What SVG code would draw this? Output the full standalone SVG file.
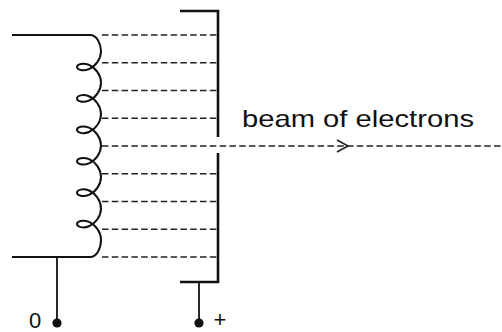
<svg xmlns="http://www.w3.org/2000/svg" width="502" height="332" viewBox="0 0 502 332">
<style>
.wire{fill:none;stroke:#111;stroke-width:1.8;stroke-linecap:butt}
.coil{fill:none;stroke:#111;stroke-width:2}
.plate{fill:none;stroke:#111;stroke-width:2.6}
.dash{fill:none;stroke:#222;stroke-width:1.6;stroke-dasharray:6.5 3.3}
.lbl{font-family:"Liberation Sans",Arial,sans-serif;fill:#111}
</style>
<rect width="502" height="332" fill="#fff"/>
<g id="cathode">
<path class="coil" d="M12,35 H90 C97,35 101,44 101,51.3
c 0,7.854 -5.72,15.236 -12,17.854 c -6.28,2.618 -12,0.472 -12,-2.146 c 0,-2.618 5.72,-4.764 12,-2.146 c 6.28,2.618 12,10 12,17.854
c 0,7.854 -5.72,15.236 -12,17.854 c -6.28,2.618 -12,0.472 -12,-2.146 c 0,-2.618 5.72,-4.764 12,-2.146 c 6.28,2.618 12,10 12,17.854
c 0,7.854 -5.72,15.236 -12,17.854 c -6.28,2.618 -12,0.472 -12,-2.146 c 0,-2.618 5.72,-4.764 12,-2.146 c 6.28,2.618 12,10 12,17.854
c 0,7.854 -5.72,15.236 -12,17.854 c -6.28,2.618 -12,0.472 -12,-2.146 c 0,-2.618 5.72,-4.764 12,-2.146 c 6.28,2.618 12,10 12,17.854
c 0,7.854 -5.72,15.236 -12,17.854 c -6.28,2.618 -12,0.472 -12,-2.146 c 0,-2.618 5.72,-4.764 12,-2.146 c 6.28,2.618 12,10 12,17.854
c 0,7.854 -5.72,15.236 -12,17.854 c -6.28,2.618 -12,0.472 -12,-2.146 c 0,-2.618 5.72,-4.764 12,-2.146 c 6.28,2.618 12,10 12,17.854
C101,248 97,257 90,257 H12"/>
</g>
<g id="anode">
<path class="plate" d="M180,11 H218 V137 M218,153 V282 H180"/>
</g>
<g id="connectors">
<path class="wire" d="M57,257 V323 M199,282 V323"/>
<circle cx="57" cy="323" r="4.6" fill="#111"/>
<circle cx="199" cy="323" r="4.6" fill="#111"/>
<path class="dash" d="M102,35 H217 M102,62.75 H217 M102,90.5 H217 M102,118.25 H217 M102,173.75 H217 M102,201.5 H217 M102,229.25 H217 M102,257 H217"/>
<path class="dash" d="M102,146 H502"/>
<polyline points="337,140 348,146 337,152" fill="none" stroke="#222" stroke-width="1.6"/>
</g>
<g id="labels">
<text class="lbl" x="242" y="127" font-size="24" textLength="232" lengthAdjust="spacingAndGlyphs">beam of electrons</text>
<text class="lbl" x="35" y="327.5" font-size="22" text-anchor="middle">0</text>
<text class="lbl" x="220" y="327" font-size="22" text-anchor="middle">+</text>
</g>
</svg>
